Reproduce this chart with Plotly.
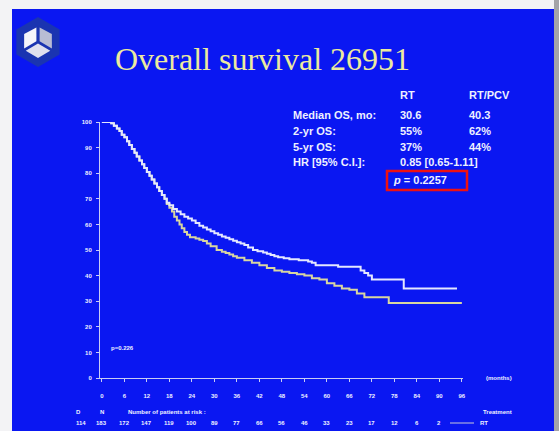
import math
import plotly.graph_objects as go

# Kaplan-Meier estimates (months, % surviving)
months_pcv = [0, 2.5, 3.2, 4, 4.7, 5.3, 6, 6.7, 7.3, 8, 8.7, 9.3, 10, 10.7, 11.3, 12, 12.7, 13.3, 14, 14.7,
              15.3, 16, 16.7, 17.3, 18, 19, 20, 21, 22, 23, 24, 25, 26, 27, 28, 29, 30, 31, 32, 33,
              34, 35, 36, 37, 38, 39, 40.3, 41.5, 43, 44, 45, 46, 47, 48.5, 50, 52.5, 55, 56, 57, 63,
              69, 70, 71, 72, 80.5, 94.7]
surv_pcv = [100, 99.5, 98.5, 97.5, 96.5, 95, 94, 92.5, 91, 89.5, 88, 86.5, 85, 83.5, 82, 80.5, 79, 77.5, 76, 74.5,
            73, 71.5, 70, 68.5, 67.5, 66, 65, 64, 63, 62.3, 61.5, 60.5, 59.5, 58.8, 58, 57.3, 56.5, 56, 55.3, 54.8,
            54.2, 53.6, 53, 52.5, 52, 51, 50, 49.5, 49, 48.5, 48, 47.6, 47.2, 46.8, 46.4, 46, 45.5, 45, 44, 43.5,
            42, 41, 40, 38.5, 35, 35]

months_rt = [0, 2.5, 3.2, 4, 4.7, 5.3, 6, 6.7, 7.3, 8, 8.7, 9.3, 10, 10.7, 11.3, 12, 12.7, 13.3, 14, 14.7,
             15.3, 16, 16.7, 17.3, 18, 18.7, 19.3, 20, 20.7, 21.3, 22, 22.7, 23.5, 25, 26, 27, 28, 29, 30.6, 32,
             33, 34, 35, 36, 38, 40, 42, 44, 46, 48, 50, 52, 54, 56, 58, 60, 62, 64, 66, 68,
             70, 76.5, 96]
surv_rt = [100, 99.5, 98.5, 97.5, 96.5, 95, 94, 92.5, 91, 89.5, 88, 86.5, 85, 83.5, 82, 80.5, 79, 77.5, 76, 74.5,
           73, 71.5, 70, 68, 66.5, 65, 63, 61.5, 60, 58.5, 57, 56, 55, 54.5, 54, 53.5, 52.5, 51.5, 50, 49.3,
           48.8, 48.2, 47.6, 47, 46, 45, 44, 43, 42, 41.5, 41, 40.5, 40, 39, 38.5, 37, 36, 35, 34.5, 33,
           31.5, 29.3, 29.3]

x_ticks = list(range(0, 97, 6))
y_ticks = list(range(0, 101, 10))

atrisk_months = list(range(0, 91, 6))
atrisk_rt = [183, 172, 147, 119, 100, 89, 77, 66, 56, 46, 33, 23, 17, 12, 6, 2]
deaths_rt = 114

stat_rows = ["Median OS, mo:", "2-yr OS:", "5-yr OS:", "HR [95% C.I.]:"]
stat_rt = ["30.6", "55%", "37%", "0.85 [0.65-1.11]"]
stat_pcv = ["40.3", "62%", "44%", ""]
p_text = "<i>p</i> = 0.2257"

W, H = 559, 431
L, R, T, B = 100, 463, 122, 378
PW, PH = R - L, B - T

BLUE = "#0a17f2"
TXT = "#eef0ff"
WHITE_LINE = "#e4e8ff"
YELLOW_LINE = "#d8d6a0"


def fx(px):
    return (px - L) / PW


def fy(py):
    return (B - py) / PH


fig = go.Figure()
fig.add_trace(go.Scatter(x=months_rt, y=surv_rt, mode="lines", line=dict(color=YELLOW_LINE, width=2, shape="hv"),
                         cliponaxis=False, showlegend=False, name="RT"))
fig.add_trace(go.Scatter(x=months_pcv, y=surv_pcv, mode="lines", line=dict(color=WHITE_LINE, width=2, shape="hv"),
                         cliponaxis=False, showlegend=False, name="RT/PCV"))

shapes = []
# slide background with border
shapes.append(dict(type="rect", xref="paper", yref="paper", x0=fx(12), x1=fx(554), y0=fy(9), y1=fy(H + 5),
                   fillcolor=BLUE, line=dict(width=0), layer="below"))
shapes.append(dict(type="rect", xref="paper", yref="paper", x0=fx(554), x1=fx(W + 2), y0=fy(-2), y1=fy(H + 2),
                   fillcolor="#a4a4a8", line=dict(width=0), layer="below"))

# logo: hexagon with cube faces
cx, cy, rh, rc = 38, 42, 25, 16
c30 = math.cos(math.radians(30))


def path(points):
    return "M " + " L ".join(f"{fx(px):.5f},{fy(py):.5f}" for px, py in points) + " Z"


hexagon = [(cx + rh * math.cos(math.radians(a)), cy + rh * math.sin(math.radians(a))) for a in range(-90, 270, 60)]
shapes.append(dict(type="path", xref="paper", yref="paper", path=path(hexagon), fillcolor="#1d3aa6",
                   line=dict(width=0), layer="below", opacity=0.85))
g = 1.6
up = (cx, cy - rc)
ul = (cx - rc * c30, cy - rc / 2)
ur = (cx + rc * c30, cy - rc / 2)
ll = (cx - rc * c30, cy + rc / 2)
lr = (cx + rc * c30, cy + rc / 2)
dn = (cx, cy + rc)
faces = [
    ([(cx - g, cy - g / 2), (up[0] - g, up[1] + g), ul, (ll[0], ll[1] - g)], "#f4f4fa"),
    ([(cx + g, cy - g / 2), (up[0] + g, up[1] + g), ur, (lr[0], lr[1] - g)], "#b9bdd4"),
    ([(cx, cy + g), (ll[0] + g, ll[1] + g / 2), dn, (lr[0] - g, lr[1] + g / 2)], "#dfe0ee"),
]
for pts, col in faces:
    shapes.append(dict(type="path", xref="paper", yref="paper", path=path(pts), fillcolor=col,
                       line=dict(width=0), layer="below"))

# red box around p value
shapes.append(dict(type="rect", xref="paper", yref="paper", x0=fx(387), x1=fx(467), y0=fy(190), y1=fy(171),
                   line=dict(color="#ee1111", width=2.5), fillcolor="rgba(0,0,0,0)"))

# legend sample line for RT
shapes.append(dict(type="line", xref="paper", yref="paper", x0=fx(450), x1=fx(474), y0=fy(423), y1=fy(423),
                   line=dict(color="#c8c8d8", width=1)))

ann = []


def text(px, py, s, size=10, color=TXT, xanchor="left", bold=True, family="Liberation Sans"):
    ann.append(dict(x=fx(px), y=fy(py), xref="paper", yref="paper", text=f"<b>{s}</b>" if bold else s,
                    showarrow=False, xanchor=xanchor, yanchor="middle",
                    font=dict(size=size, color=color, family=family)))


text(262, 59, "Overall survival 26951", size=32, color="#ecea9e", xanchor="center", bold=False,
     family="Liberation Serif")

text(398, 95, "RT", size=11)
text(467, 95, "RT/PCV", size=11)
row_y = [115, 131, 147, 162]
for yy, lab, a, b in zip(row_y, stat_rows, stat_rt, stat_pcv):
    text(291, yy, lab, size=11)
    text(398, yy, a, size=11)
    if b:
        text(467, yy, b, size=11)
text(391, 180, p_text, size=11)

text(109, 348, "p=0.226", size=6)
text(484, 378, "(months)", size=6)
text(78, 412, "D", size=6, xanchor="center")
text(102, 412, "N", size=6, xanchor="center")
text(126, 412, "Number of patients at risk :", size=6)
text(481, 412, "Treatment", size=6)
text(81, 423, str(deaths_rt), size=6, xanchor="center")
text(478, 423, "RT", size=6)
for m, n in zip(atrisk_months, atrisk_rt):
    ann.append(dict(x=m, y=fy(423), xref="x", yref="paper", text=f"<b>{n}</b>", showarrow=False,
                    xanchor="center", yanchor="middle", font=dict(size=6, color=TXT, family="Liberation Sans")))

axis_common = dict(showgrid=False, zeroline=False, showline=True, linecolor="#c8ccf4", linewidth=1,
                   ticks="outside", ticklen=3, tickcolor="#c8ccf4", tickwidth=1,
                   tickfont=dict(size=6, color=TXT, family="Liberation Sans"))

fig.update_layout(
    width=W, height=H,
    margin=dict(l=L, r=W - R, t=T, b=H - B, pad=0),
    paper_bgcolor="#f3f3f5", plot_bgcolor="rgba(0,0,0,0)",
    shapes=shapes, annotations=ann, showlegend=False,
    xaxis=dict(range=[-0.5, 96.3], tickvals=x_ticks, ticktext=[f"<b>{v}</b>" for v in x_ticks],
               ticklabelstandoff=9, **axis_common),
    yaxis=dict(range=[0, 100], tickvals=y_ticks, ticktext=[f"<b>{v}</b>" for v in y_ticks],
               ticklabelstandoff=3, **axis_common),
)

fig.write_html("out.html")
